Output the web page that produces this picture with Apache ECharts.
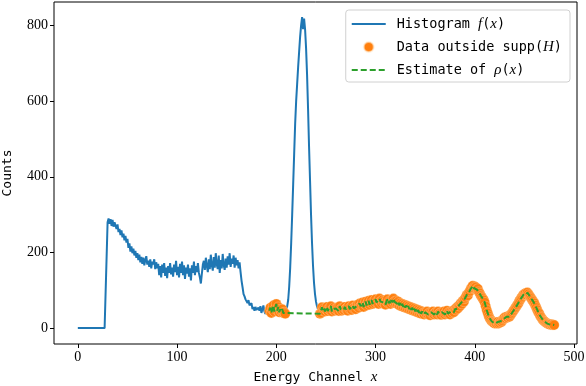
<!DOCTYPE html>
<html>
<head>
<meta charset="utf-8">
<script src="https://cdn.jsdelivr.net/npm/echarts@6/dist/echarts.min.js"></script>
<style>
html, body { margin: 0; padding: 0; background: #ffffff; }
#chart { width: 586px; height: 386px; }
</style>
</head>
<body>
<div id="chart"></div>
<script>
// counts per energy channel, channel 0 .. 480
var counts = [
  0, 0, 0, 0, 0, 0, 0, 0, 0, 0, 0, 0, 0, 0, 0, 0, 0, 0, 0, 0,
  0, 0, 0, 0, 0, 0, 0, 0, 0, 0,
  280, 290, 276, 288, 270, 286, 268, 280, 284, 262, 274,
  254, 262, 246, 258, 240, 250, 232, 244, 226, 236,
  212, 224, 202, 216, 198, 210, 192, 204, 186, 198,
  180, 194, 174, 188, 170, 186, 166, 180, 190, 168,
  178, 162, 182, 158, 176, 168, 182, 156, 174, 158,
  170, 140, 164, 134, 168, 146, 172, 138, 160, 132,
  164, 146, 172, 142, 160, 136, 168, 148, 178, 140,
  162, 134, 170, 146, 176, 140, 166, 130, 160, 144,
  168, 136, 158, 126, 166, 146, 176, 140, 164, 148,
  172, 146, 134, 118, 144, 168, 178, 154, 186, 164,
  148, 182, 156, 194, 166, 152, 188, 160, 198, 168,
  156, 192, 146, 180, 158, 196, 166, 154, 184, 160,
  190, 168, 198, 162, 184, 170, 192, 160, 186, 166,
  180, 158, 174, 148, 125, 108, 90, 84, 76, 80,
  66, 74, 60, 56, 66, 50, 56, 46, 56, 48,
  44, 54, 46, 58, 40, 50, 60, 44, 38, 48,
  36, 44,
  46, 54, 40, 50, 60, 44, 52, 64, 46, 56, 42, 50, 44, 50, 40, 42, 38,
  50, 58, 75, 110, 160, 225, 300, 380, 460, 540,
  600, 645, 690, 730, 770, 800, 822, 790, 818, 790,
  740, 670, 580, 480, 390, 300, 225, 165, 120, 90,
  70, 58, 50, 44,
  38, 40, 55, 46, 52, 44, 50,
  56, 45, 52, 48, 58, 44, 50, 54, 46, 52,
  48, 55, 45, 58, 50, 46, 54, 48, 56, 50,
  52, 46, 58, 50, 55, 48, 60, 52, 56, 50,
  58, 62, 54, 65, 58, 60, 68, 56, 64, 70,
  60, 66, 72, 62, 68, 74, 64, 70, 66, 76,
  68, 72, 64, 78, 70, 66, 74, 68, 72, 62,
  70, 76, 66, 72, 64, 74, 68, 78, 70, 66,
  72, 64, 70, 60, 66, 58, 64, 56, 62, 54,
  60, 52, 58, 50, 56, 48, 54, 46, 52, 44,
  50, 42, 48, 40, 46, 38, 44, 40, 36, 42,
  38, 44, 36, 40, 34, 42, 38, 44, 36, 40,
  42, 36, 44, 38, 40, 35, 42, 38, 44, 36,
  40, 46, 38, 42, 36, 44, 40, 46, 42, 50,
  48, 55, 52, 60, 58, 66, 64, 72, 70, 78,
  82, 88, 86, 94, 98, 104, 108, 112, 106, 110,
  108, 102, 104, 96, 92, 86, 82, 78, 74, 68,
  58, 48, 40, 32, 26, 22, 18, 16, 14, 12,
  14, 12, 16, 12, 14, 18, 16, 20, 24, 28,
  26, 30, 28, 32, 30, 34, 38, 42, 46, 50,
  54, 58, 62, 66, 72, 76, 80, 84, 88, 90,
  92, 88, 94, 90, 86, 82, 78, 74, 70, 66,
  60, 54, 48, 42, 38, 32, 28, 24, 20, 18,
  16, 14, 12, 11, 10, 9, 10, 8, 9, 8
]
var outsideFrom = 193   // first channel of the data outside supp(H)
var suppFrom = 210      // support of the peak
var suppTo = 243
var xTicks = [0, 100, 200, 300, 400, 500]
var yTicks = [0, 200, 400, 600, 800]

var mono = 'DejaVu Sans Mono'
var serif = 'Liberation Serif'

var histData = counts.map(function (c, i) { return [i, c] })
var outsideData = histData.filter(function (p) {
  return p[0] >= outsideFrom && (p[0] < suppFrom || p[0] > suppTo)
})

var legendText = {
  'Histogram f(x)': 'Histogram {i|f}({i|x})',
  'Data outside supp(H)': 'Data outside supp({i|H})',
  'Estimate of rho(x)': 'Estimate of {i|ρ}({i|x})'
}
var italic = { fontFamily: serif, fontStyle: 'italic', fontSize: 15, color: '#000' }
var noMarker = { color: 'rgba(0,0,0,0)', borderWidth: 0 }

var chart = echarts.init(document.getElementById('chart'))
var option = {
  animation: false,
  grid: {
    left: 54,
    right: 9,
    top: 2,
    bottom: 42,
    outerBoundsMode: 'none',
    containLabel: false,
    show: true,
    borderColor: '#000',
    borderWidth: 1
  },
  legend: {
    orient: 'vertical',
    right: 16,
    top: 10,
    itemWidth: 34,
    itemHeight: 10,
    itemGap: 7,
    padding: [6, 8, 4, 5],
    borderColor: '#d0d0d0',
    borderWidth: 1,
    borderRadius: 3,
    backgroundColor: 'rgba(255,255,255,0.8)',
    textStyle: {
      fontFamily: mono, fontSize: 13.5, color: '#000', lineHeight: 16,
      padding: [0, 0, 0, 6], rich: { i: italic }
    },
    formatter: function (name) { return legendText[name] },
    data: [
      { name: 'Histogram f(x)', itemStyle: noMarker },
      { name: 'Data outside supp(H)', icon: 'circle' },
      { name: 'Estimate of rho(x)', itemStyle: noMarker }
    ]
  },
  xAxis: {
    type: 'value',
    min: -24,
    max: 503,
    name: 'Energy Channel {i|x}',
    nameLocation: 'middle',
    nameGap: 26,
    nameTextStyle: { fontFamily: mono, fontSize: 13, color: '#000', rich: { i: italic } },
    axisLine: { show: false, onZero: false },
    axisTick: { show: true, length: 4, customValues: xTicks, lineStyle: { color: '#000' } },
    axisLabel: { customValues: xTicks, fontFamily: serif, fontSize: 14, color: '#000', margin: 6 },
    splitLine: { show: false }
  },
  yAxis: {
    type: 'value',
    min: -42,
    max: 862,
    name: 'Counts',
    nameLocation: 'middle',
    nameGap: 40,
    nameTextStyle: { fontFamily: mono, fontSize: 13, color: '#000' },
    axisLine: { show: false, onZero: false },
    axisTick: { show: true, length: 4, customValues: yTicks, lineStyle: { color: '#000' } },
    axisLabel: { customValues: yTicks, fontFamily: serif, fontSize: 14, color: '#000', margin: 6 },
    splitLine: { show: false }
  },
  series: [
    {
      name: 'Histogram f(x)',
      type: 'line',
      data: histData,
      symbol: 'none',
      z: 1,
      lineStyle: { color: '#1f77b4', width: 2 },
      itemStyle: { color: '#1f77b4' }
    },
    {
      name: 'Data outside supp(H)',
      type: 'scatter',
      data: outsideData,
      symbolSize: 10,
      z: 2,
      itemStyle: { color: '#ff7f0e', opacity: 1, borderColor: 'rgba(255,230,200,0.6)', borderWidth: 0.5 }
    },
    {
      name: 'Estimate of rho(x)',
      type: 'line',
      data: outsideData,
      symbol: 'none',
      z: 3,
      lineStyle: { color: '#2ca02c', width: 2, type: [6, 3] },
      itemStyle: { color: '#2ca02c' }
    }
  ]
}
chart.setOption(option)
</script>
</body>
</html>
